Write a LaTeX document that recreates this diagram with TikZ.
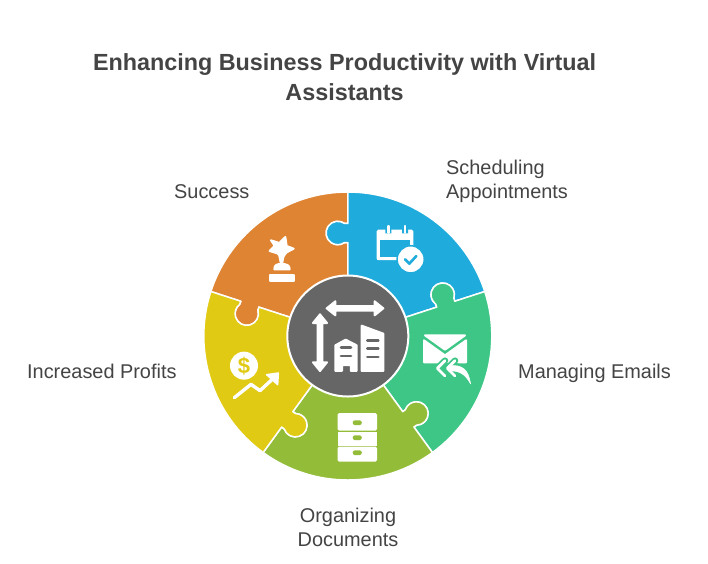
\documentclass[tikz,border=0pt]{standalone}
\usepackage{fontspec}
\setmainfont{Liberation Sans}
\usetikzlibrary{calc}
\definecolor{corange}{HTML}{DF8432}
\definecolor{cblue}{HTML}{1FABDC}
\definecolor{cgreen}{HTML}{3EC686}
\definecolor{colive}{HTML}{93BC38}
\definecolor{cyellow}{HTML}{E0CA14}
\definecolor{cgray}{HTML}{666666}
\definecolor{ctext}{HTML}{444444}
\newcommand{\tabout}[1]{-- (#1:93.5) -- ($(#1:93.4)+(#1+90:3.3)$) arc[start angle=#1+215, delta angle=-250, radius=11.7pt] -- (#1:112.5) -- (#1:144)}
\newcommand{\tabin}[1]{-- (#1:112.5) -- ($(#1:112.6)+(#1+90:3.3)$) arc[start angle=#1-35, delta angle=250, radius=11.7pt] -- (#1:93.5) -- (#1:50)}
\newcommand{\sector}[2]{\fill[#2,draw=white,line width=1.5pt,line join=round] (#1-72:50) \tabout{#1-72} arc[start angle=#1-72, end angle=#1, radius=144pt] \tabin{#1} -- cycle;}
\tikzset{
  label/.style={font=\fontsize{19.9}{24}\selectfont,text=ctext,inner sep=0pt},
  zoomed/.style={x=0.3333pt,y=-0.3333pt},
  iconfill/.style={fill=white,draw=white,line width=1.5pt,line join=round},
  softfill/.style={fill=white,draw=white,line width=2pt,line join=round},
  icon/.style={draw=white,line cap=round,line join=round}
}
\begin{document}
\begin{tikzpicture}[x=1pt,y=-1pt]
\useasboundingbox (0,0) rectangle (708,563);
\fill[white] (0,0) rectangle (708,563);
\node[font=\bfseries\fontsize{23.35}{30}\selectfont,text=ctext,align=center,inner sep=0pt] (title) at (344.5,77) {Enhancing Business Productivity with Virtual\\Assistants};
\begin{scope}[shift={(347.8,336)},y=1pt]
\sector{162}{corange}
\sector{90}{cblue}
\sector{18}{cgreen}
\sector{-54}{colive}
\sector{-126}{cyellow}
\fill[cgray,draw=white,line width=2pt] (0,0) circle[radius=60.5pt];
\end{scope}
\node[label,anchor=base west] (success) at (174,198.5) {Success};
\node[label,anchor=base west,align=left] (sched) at (446,198.5) {Scheduling\\Appointments};
\node[label,anchor=base west] (emails) at (518,378.5) {Managing Emails};
\node[label,anchor=base,align=center] (docs) at (348,546.5) {Organizing\\Documents};
\node[label,anchor=base west] (profits) at (27,378.5) {Increased Profits};
% trophy
\begin{scope}[shift={(260,230)},zoomed]
\fill[softfill] (33,31) -- (58,39) -- (76,21) -- (80,48) -- (101,56) -- (80,67) -- (66,84) -- (52,70) -- (29,63) -- (44,47) -- cycle;
\fill[softfill] (57,72) -- (72,72) -- (67,97) -- (62,97) -- cycle;
\fill[softfill] (43,118) .. controls (43,105) and (50,102) .. (64,102) .. controls (80,102) and (89,105) .. (89,118) -- cycle;
\fill[softfill] (29,135) rectangle (101,152);
\end{scope}
% calendar
\begin{scope}[shift={(370,220)},zoomed]
\fill[white,rounded corners=1.5pt] (20,29) rectangle (130,120);
\fill[cblue] (31,60) rectangle (120,110);
\fill[white] (20,110) rectangle (100,120);
\fill[cblue] (46,22) rectangle (64,40) (96,22) rectangle (114,40);
\draw[icon,line width=2.4pt] (55,18) -- (55,38) (105,18) -- (105,38);
\fill[white,draw=cblue,line width=1.5pt] (122,118) circle[radius=13.6pt];
\draw[draw=cblue,line cap=round,line join=round,line width=2.6pt] (105,118) -- (118,131) -- (139,108);
\end{scope}
% envelope
\begin{scope}[shift={(415,325)},zoomed]
\fill[softfill] (30,31) -- (150,31) -- (90,74) -- cycle;
\fill[softfill] (27,46) -- (90,91) -- (153,46) -- (153,112) -- (27,112) -- cycle;
\draw[cgreen,line width=6.5pt,line cap=round,line join=round] (90,107) -- (67,130) -- (90,153) (120,107) -- (97,130) -- (120,153);
\fill[cgreen,draw=cgreen,line width=5pt,line join=round] (100,122) .. controls (145,118) and (160,135) .. (167,177) .. controls (150,145) and (130,136) .. (100,138) -- cycle;
\draw[icon,line width=2.8pt] (90,107) -- (67,130) -- (90,153) (120,107) -- (97,130) -- (120,153);
\fill[white,draw=white,line width=.5pt,line join=round] (100,122) .. controls (145,118) and (160,135) .. (167,177) .. controls (150,145) and (130,136) .. (100,138) -- cycle;
\end{scope}
% drawers
\begin{scope}[shift={(337.5,413)},x=1pt,y=-1pt]
\fill[white,rounded corners=1.5pt] (0,0) rectangle (39.5,17.5);
\fill[white] (0,18.7) rectangle (39.5,32.5);
\fill[white,rounded corners=1.5pt] (0,33.7) rectangle (39.5,48.7);
\foreach \yy in {9.7,24.7,39.7} \fill[colive,rounded corners=2.3pt] (15.2,\yy-2.4) rectangle (24.3,\yy+2.4);
\end{scope}
% dollar and chart
\begin{scope}[shift={(190,330)},zoomed]
\fill[white] (162,107) circle[radius=14pt];
\node[font=\bfseries\fontsize{22}{22}\selectfont,text=cyellow,inner sep=0pt] (dollar) at (162,107) {\$};
\draw[icon,line width=3.4pt] (133,203) -- (183,163) -- (210,182) -- (250,145);
\fill[iconfill] (230,134) -- (265,129) -- (263,164) -- cycle;
\end{scope}
% centre
\begin{scope}[shift={(280,270)},zoomed]
\fill[softfill] (140,115) -- (166,94) -- (166,108) -- (284,108) -- (284,94) -- (310,115) -- (284,136) -- (284,122) -- (166,122) -- (166,136) -- cycle;
\fill[softfill] (120,133) -- (141,159) -- (127,159) -- (127,277) -- (141,277) -- (120,303) -- (99,277) -- (113,277) -- (113,159) -- (99,159) -- cycle;
\fill[softfill] (166,226) -- (197,209) -- (230,226) -- (230,303) -- (213,303) -- (213,285) -- (186,285) -- (186,303) -- (166,303) -- cycle;
\fill[softfill] (245,167) -- (310,191) -- (310,303) -- (245,303) -- cycle;
\draw[cgray,line width=2.7pt,line cap=round] (183,233) -- (213,233) (183,258) -- (213,258) (262,211) -- (295,211) (262,236) -- (295,236) (262,261) -- (295,261);
\end{scope}
\end{tikzpicture}
\end{document}
